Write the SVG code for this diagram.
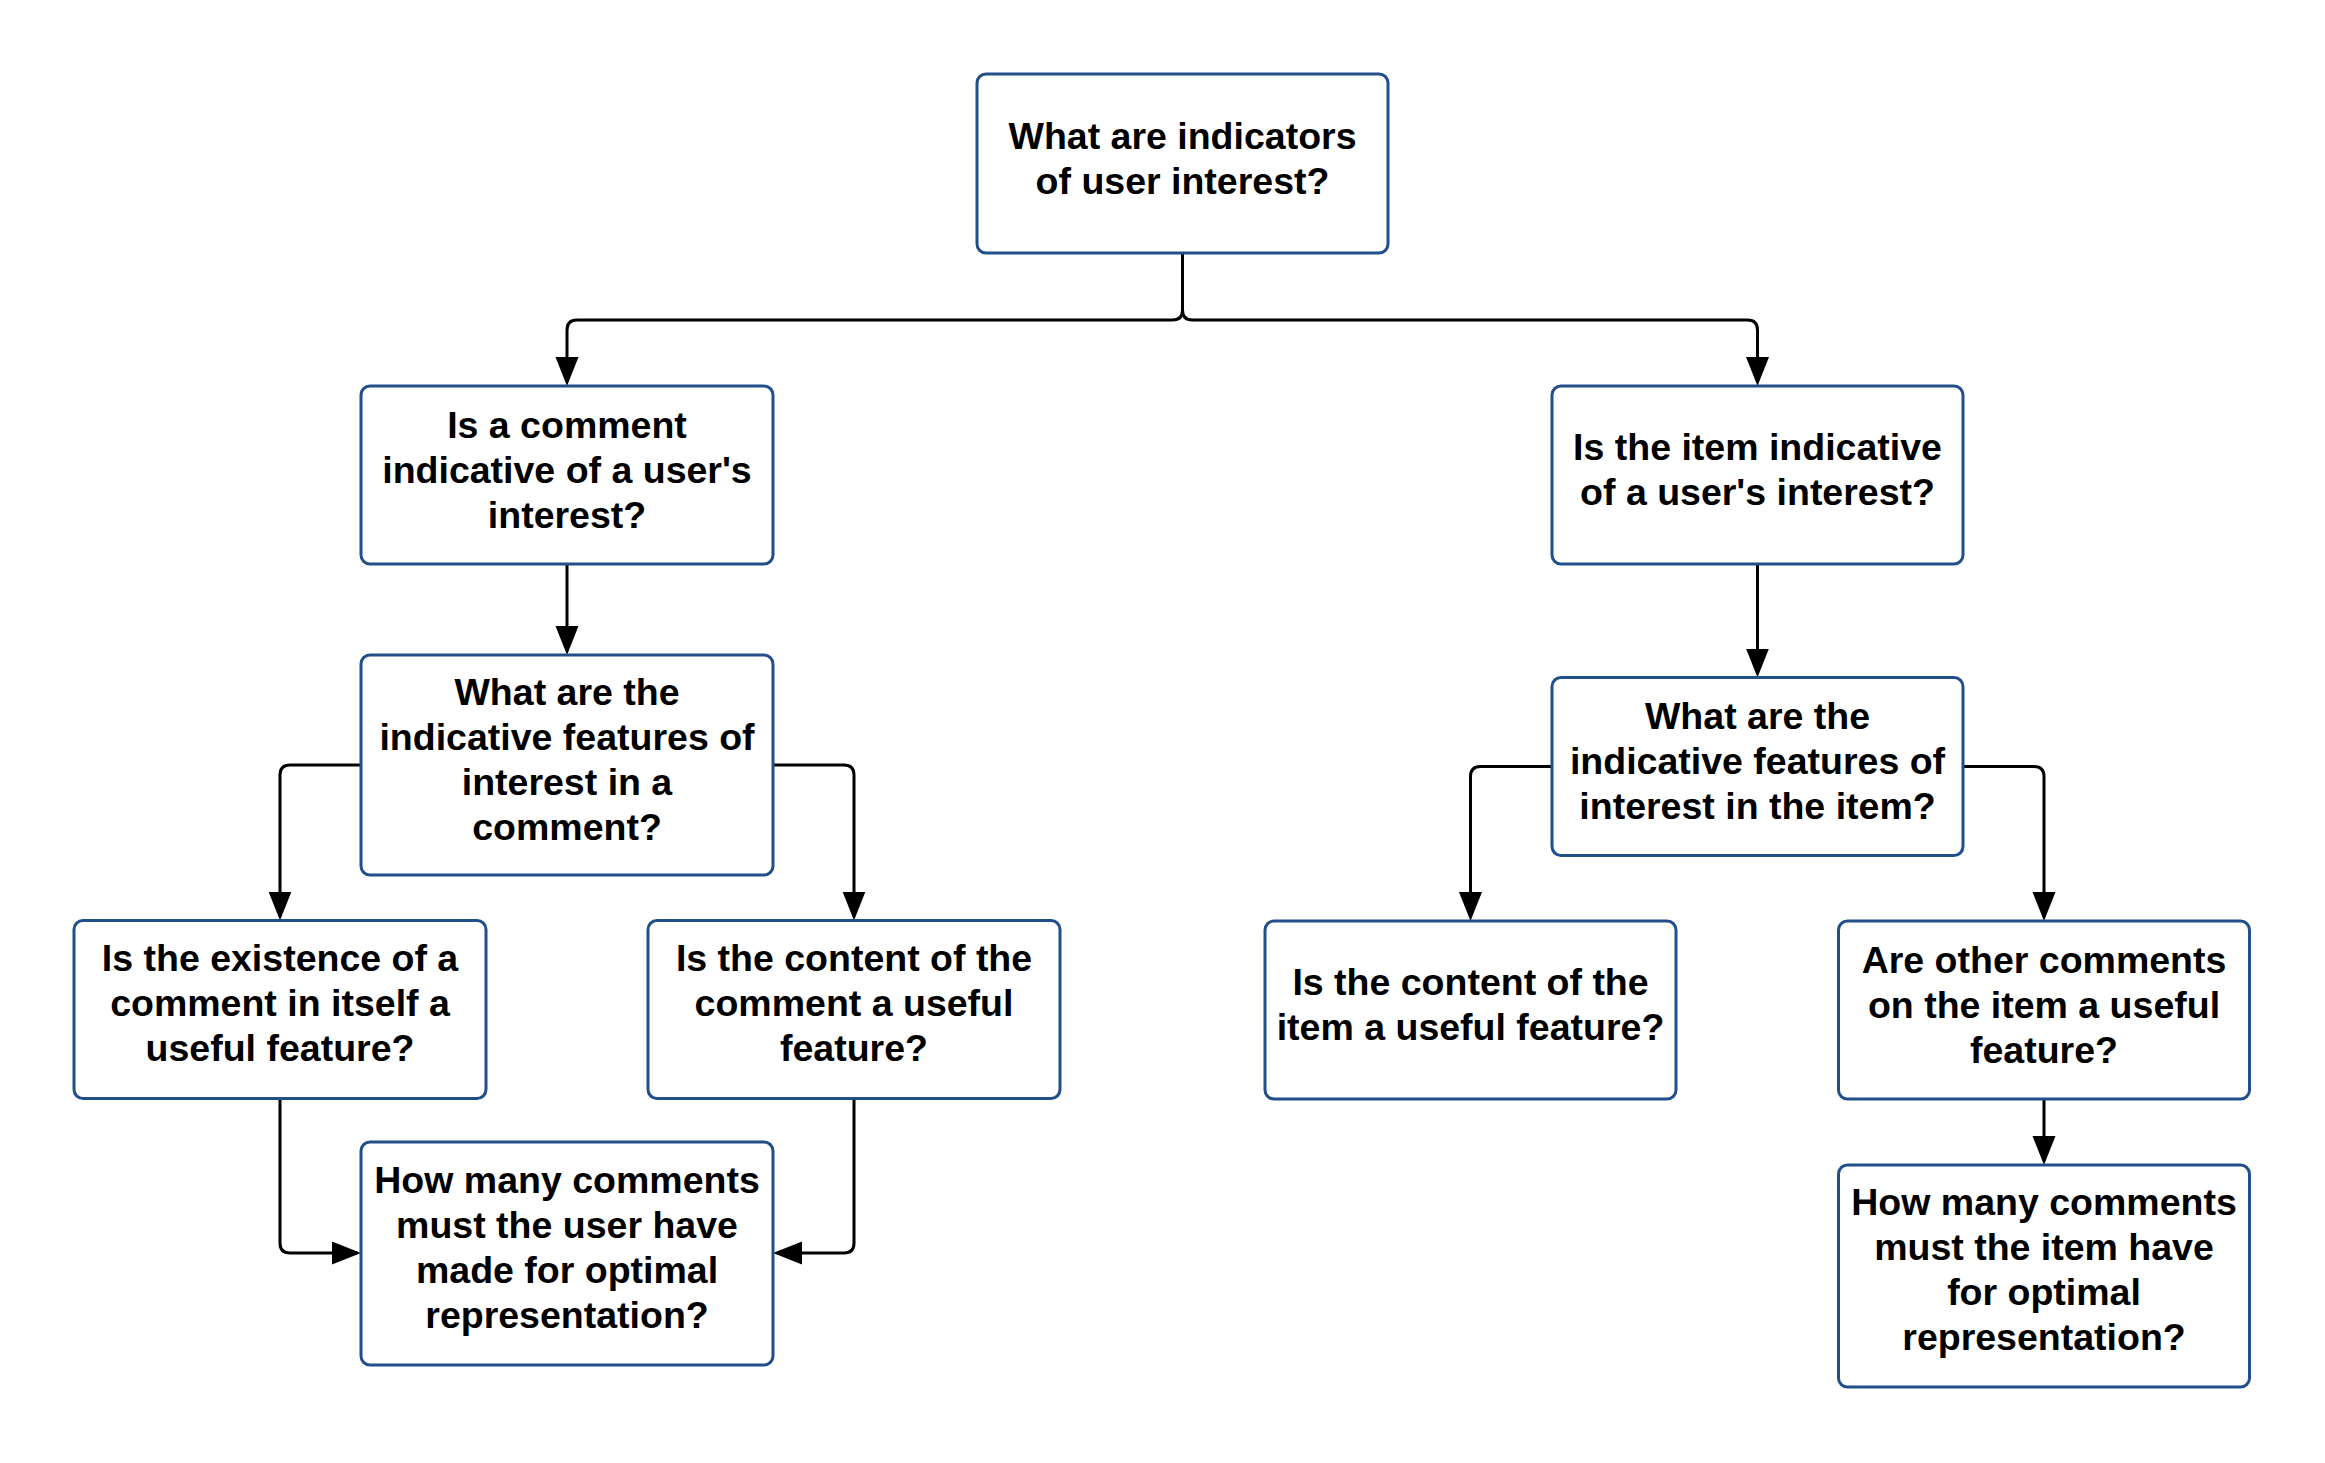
<svg xmlns="http://www.w3.org/2000/svg" width="2325" height="1463" viewBox="0 0 2325 1463">
<style>
.box{fill:#ffffff;stroke:#224f8b;stroke-width:3}
.lbl{font-family:"Liberation Sans",Arial,sans-serif;font-weight:bold;font-size:37.5px;fill:#000000;text-anchor:middle}
.conn{fill:none;stroke:#000000;stroke-width:3}
</style>
<defs>
<marker id="arr" markerUnits="userSpaceOnUse" markerWidth="31" markerHeight="24" refX="25" refY="11.5" orient="auto">
<path d="M0,0 L29,11.5 L0,23 Z" fill="#000000"/>
</marker>
</defs>
<rect width="2325" height="1463" fill="#ffffff"/>
<g id="connectors">
<path class="conn" marker-end="url(#arr)" d="M1182.5,253 V310 Q1182.5,320 1172.5,320 H577 Q567,320 567,330 V382"/>
<path class="conn" marker-end="url(#arr)" d="M1182.5,253 V310 Q1182.5,320 1192.5,320 H1747.5 Q1757.5,320 1757.5,330 V382"/>
<path class="conn" marker-end="url(#arr)" d="M567,564 V651"/>
<path class="conn" marker-end="url(#arr)" d="M361,765 H290 Q280,765 280,775 V916.5"/>
<path class="conn" marker-end="url(#arr)" d="M773,765 H844 Q854,765 854,775 V916.5"/>
<path class="conn" marker-end="url(#arr)" d="M280,1098.5 V1243 Q280,1253 290,1253 H357"/>
<path class="conn" marker-end="url(#arr)" d="M854,1098.5 V1243 Q854,1253 844,1253 H777"/>
<path class="conn" marker-end="url(#arr)" d="M1757.5,564 V673.5"/>
<path class="conn" marker-end="url(#arr)" d="M1552,766.5 H1480.5 Q1470.5,766.5 1470.5,776.5 V917"/>
<path class="conn" marker-end="url(#arr)" d="M1963,766.5 H2034 Q2044,766.5 2044,776.5 V917"/>
<path class="conn" marker-end="url(#arr)" d="M2044,1099 V1161"/>
</g>
<g id="n_top">
<rect class="box" x="977" y="74" width="411" height="179" rx="9"/>
<text class="lbl" x="1182.5" y="149">What are indicators</text>
<text class="lbl" x="1182.5" y="194">of user interest?</text>
</g>
<g id="n_comment">
<rect class="box" x="361" y="386" width="412" height="178" rx="9"/>
<text class="lbl" x="567" y="437.5">Is a comment</text>
<text class="lbl" x="567" y="482.5">indicative of a user's</text>
<text class="lbl" x="567" y="527.5">interest?</text>
</g>
<g id="n_comment_features">
<rect class="box" x="361" y="655" width="412" height="220" rx="9"/>
<text class="lbl" x="567" y="704.5">What are the</text>
<text class="lbl" x="567" y="749.5">indicative features of</text>
<text class="lbl" x="567" y="794.5">interest in a</text>
<text class="lbl" x="567" y="839.5">comment?</text>
</g>
<g id="n_existence">
<rect class="box" x="74" y="920.5" width="412" height="178" rx="9"/>
<text class="lbl" x="280" y="971">Is the existence of a</text>
<text class="lbl" x="280" y="1016">comment in itself a</text>
<text class="lbl" x="280" y="1061">useful feature?</text>
</g>
<g id="n_comment_content">
<rect class="box" x="648" y="920.5" width="412" height="178" rx="9"/>
<text class="lbl" x="854" y="971">Is the content of the</text>
<text class="lbl" x="854" y="1016">comment a useful</text>
<text class="lbl" x="854" y="1061">feature?</text>
</g>
<g id="n_user_count">
<rect class="box" x="361" y="1142" width="412" height="223" rx="9"/>
<text class="lbl" x="567" y="1193">How many comments</text>
<text class="lbl" x="567" y="1238">must the user have</text>
<text class="lbl" x="567" y="1283">made for optimal</text>
<text class="lbl" x="567" y="1328">representation?</text>
</g>
<g id="n_item">
<rect class="box" x="1552" y="386" width="411" height="178" rx="9"/>
<text class="lbl" x="1757.5" y="460">Is the item indicative</text>
<text class="lbl" x="1757.5" y="505">of a user's interest?</text>
</g>
<g id="n_item_features">
<rect class="box" x="1552" y="677.5" width="411" height="178" rx="9"/>
<text class="lbl" x="1757.5" y="729">What are the</text>
<text class="lbl" x="1757.5" y="774">indicative features of</text>
<text class="lbl" x="1757.5" y="819">interest in the item?</text>
</g>
<g id="n_item_content">
<rect class="box" x="1265" y="921" width="411" height="178" rx="9"/>
<text class="lbl" x="1470.5" y="995">Is the content of the</text>
<text class="lbl" x="1470.5" y="1040">item a useful feature?</text>
</g>
<g id="n_other_comments">
<rect class="box" x="1838.5" y="921" width="411" height="178" rx="9"/>
<text class="lbl" x="2044" y="973">Are other comments</text>
<text class="lbl" x="2044" y="1018">on the item a useful</text>
<text class="lbl" x="2044" y="1063">feature?</text>
</g>
<g id="n_item_count">
<rect class="box" x="1838.5" y="1165" width="411" height="222" rx="9"/>
<text class="lbl" x="2044" y="1215">How many comments</text>
<text class="lbl" x="2044" y="1260">must the item have</text>
<text class="lbl" x="2044" y="1305">for optimal</text>
<text class="lbl" x="2044" y="1350">representation?</text>
</g>
</svg>
